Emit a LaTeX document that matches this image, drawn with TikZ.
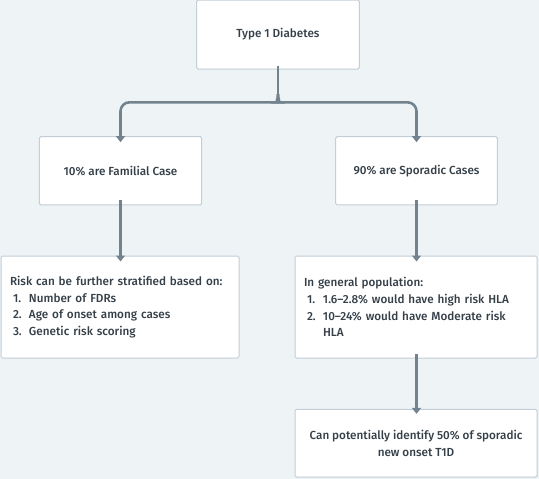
\documentclass[tikz,border=0pt]{standalone}
\usepackage{fontspec}
\setmainfont{Fira Sans}[UprightFont=* Medium]
\usetikzlibrary{arrows.meta}
\definecolor{bgc}{HTML}{EEF3F6}
\definecolor{boxline}{HTML}{C3CED7}
\definecolor{arrc}{HTML}{72838F}
\definecolor{txt}{HTML}{353F48}
\tikzset{
  box/.style={draw=boxline, line width=1pt, fill=white, rounded corners=1.5pt,
    text=txt, font=\fontsize{11.7}{16.7}\selectfont, inner xsep=9pt, inner ysep=4pt},
  conn/.style={draw=arrc, line width=2.6pt},
  tip/.style={-{Triangle[length=6pt,width=9pt]}},
}
\newcommand{\itm}[1]{\hspace*{3pt}\makebox[16pt][l]{#1}}
\begin{document}
\begin{tikzpicture}[x=1pt,y=-1pt]
\fill[bgc] (0,0) rectangle (539,479);
\useasboundingbox (0,0) rectangle (539,479);

\node[box, minimum width=162.6pt, minimum height=69pt] (top) at (278,34.5) {Type 1 Diabetes};
\node[box, minimum width=162.4pt, minimum height=68.3pt] (fam) at (120.5,170.8) {10\% are Familial Case};
\node[box, minimum width=161.6pt, minimum height=68.3pt] (spor) at (416.5,170.8) {90\% are Sporadic Cases};
\node[box, minimum width=238pt, minimum height=102pt, text width=220pt, align=left] (risk) at (120,307)
  {Risk can be further stratified based on:\\
   \itm{1.}Number of FDRs\\
   \itm{2.}Age of onset among cases\\
   \itm{3.}Genetic risk scoring};
\node[box, minimum width=242pt, minimum height=102pt, text width=224pt, align=left] (pop) at (416,307)
  {In general population:\\
   \itm{1.}1.6–2.8\% would have high risk HLA\\
   \itm{2.}10–24\% would have Moderate risk\\
   \itm{}HLA};
\node[box, minimum width=242pt, minimum height=67.7pt, align=center] (fin) at (416,443.2)
  {Can potentially identify 50\% of sporadic\\ new onset T1D};

\coordinate (cusp) at (278,94);
\coordinate (ljoin) at (269,102.3);
\coordinate (rjoin) at (287,102.3);
\draw[conn] ([yshift=4pt]top.south) -- (cusp);
\draw[conn, tip, rounded corners=9pt] (cusp) .. controls (278,100) and (275,102.3) .. (ljoin)
  -- (fam.north |- ljoin) -- ([yshift=-6pt]fam.north);
\draw[conn, tip, rounded corners=9pt] (cusp) .. controls (278,100) and (281,102.3) .. (rjoin)
  -- (spor.north |- rjoin) -- ([yshift=-6pt]spor.north);
\draw[conn, tip] ([yshift=5pt]fam.south) -- ([yshift=-6pt]risk.north -| fam.south);
\draw[conn, tip] ([yshift=5pt]spor.south) -- ([yshift=-6pt]pop.north -| spor.south);
\draw[conn, tip] ([yshift=5pt]pop.south -| spor.south) -- ([yshift=-5pt]fin.north -| spor.south);
\end{tikzpicture}
\end{document}
